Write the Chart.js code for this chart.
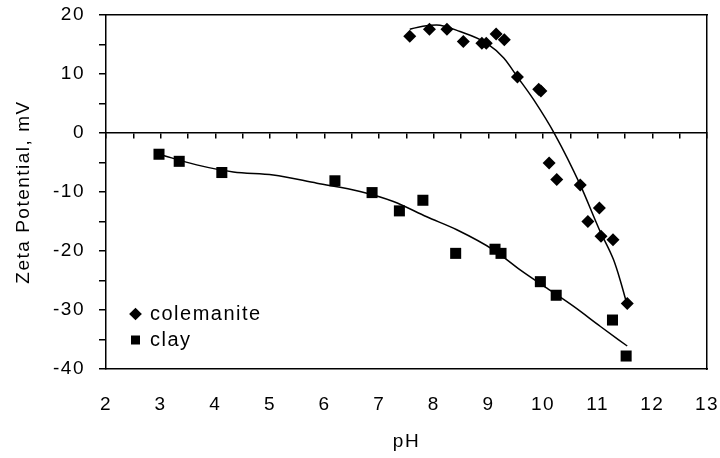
<!DOCTYPE html>
<html>
<head>
<meta charset="utf-8">
<script src="https://cdn.jsdelivr.net/npm/chart.js@4"></script>
<style>
  html, body { margin: 0; padding: 0; background: #fff; }
  #zeta { display: block; }
</style>
</head>
<body>
<canvas id="zeta" width="720" height="458"></canvas>
<script>
// Measured points (pH, zeta potential in mV)
const colemaniteX = [7.56, 7.92, 8.24, 8.54, 8.88, 8.96, 9.14, 9.29, 9.53, 9.92, 9.96, 10.11, 10.25, 10.68, 10.82, 11.03, 11.06, 11.28, 11.54];
const colemaniteY = [16.4, 17.6, 17.6, 15.5, 15.2, 15.2, 16.8, 15.8, 9.5, 7.4, 7.1, -5.1, -7.9, -8.8, -15.0, -12.7, -17.5, -18.1, -28.9];

const clayX = [2.97, 3.34, 4.12, 6.19, 6.87, 7.37, 7.80, 8.40, 9.12, 9.23, 9.95, 10.24, 11.27, 11.52];
const clayY = [-3.6, -4.8, -6.7, -8.1, -10.1, -13.2, -11.4, -20.4, -19.7, -20.4, -25.2, -27.5, -31.7, -37.8];

// Trend lines
const colemaniteFitX = [7.56, 7.8, 8.05, 8.48, 8.97, 9.28, 9.53, 9.83, 10.22, 10.68, 11.03, 11.29, 11.41, 11.54];
const colemaniteFitY = [17.6, 18.1, 18.3, 17.2, 15.2, 12.7, 9.5, 5.6, -0.3, -8.8, -16.4, -21.5, -24.9, -29.2];

const clayFitX = [2.97, 3.66, 4.33, 5.06, 5.86, 6.65, 7.26, 7.87, 8.42, 9.09, 9.58, 10.07, 10.56, 11.05, 11.54];
const clayFitY = [-3.6, -5.4, -6.6, -7.1, -8.5, -9.9, -11.6, -14.2, -16.4, -19.8, -23.2, -26.3, -29.4, -32.8, -36.1];

// Axis ranges
const xMin = 2, xMax = 13, xStep = 1;
const yMin = -40, yMax = 20, yStep = 5, yLabelStep = 10;

const toPoints = (xs, ys) => xs.map((x, i) => ({ x: x, y: ys[i] }));

Chart.defaults.font.family = "'Liberation Sans', Arial, sans-serif";
Chart.defaults.font.size = 19;
Chart.defaults.color = '#000';

// the original lettering is a bit wider than Arial
const wideText = {
    id: 'wideText',
    beforeUpdate(chart) { chart.ctx.letterSpacing = '1.5px'; },
    beforeDraw(chart) { chart.ctx.letterSpacing = '1.5px'; }
};

// put the legend in the lower left corner of the plot
const legendSpot = {
    id: 'legendSpot',
    afterLayout(chart) {
        const lg = chart.legend;
        const area = chart.chartArea;
        lg.left = area.left + 19;
        lg.right = lg.left + lg.width;
        lg.bottom = area.bottom - 13;
        lg.top = lg.bottom - lg.height;
    }
};

const ctx = document.getElementById('zeta').getContext('2d');
new Chart(ctx, {
    type: 'scatter',
    data: {
        datasets: [
            {
                label: 'colemanite',
                data: toPoints(colemaniteX, colemaniteY),
                pointStyle: 'rectRot',
                pointRadius: 6.5,
                backgroundColor: '#000',
                borderColor: '#000',
                borderWidth: 0
            },
            {
                label: 'clay',
                data: toPoints(clayX, clayY),
                pointStyle: 'rect',
                pointRadius: 7.8,
                backgroundColor: '#000',
                borderColor: '#000',
                borderWidth: 0
            },
            {
                label: 'colemanite fit',
                data: toPoints(colemaniteFitX, colemaniteFitY),
                showLine: true,
                pointRadius: 0,
                borderColor: '#000',
                borderWidth: 1.5,
                cubicInterpolationMode: 'monotone'
            },
            {
                label: 'clay fit',
                data: toPoints(clayFitX, clayFitY),
                showLine: true,
                pointRadius: 0,
                borderColor: '#000',
                borderWidth: 1.5,
                cubicInterpolationMode: 'monotone'
            }
        ]
    },
    plugins: [wideText, legendSpot],
    options: {
        responsive: false,
        animation: false,
        layout: { padding: { top: 15, right: 13, bottom: 0, left: 0 } },
        plugins: {
            tooltip: { enabled: false },
            legend: {
                position: 'chartArea',
                align: 'end',
                labels: {
                    usePointStyle: true,
                    boxWidth: 9,
                    boxHeight: 9,
                    padding: 6,
                    color: '#000',
                    font: { size: 20 },
                    filter: item => item.datasetIndex < 2
                }
            }
        },
        scales: {
            x: {
                type: 'linear',
                position: 'bottom',
                min: xMin,
                max: xMax,
                afterFit: s => { s.height = 89; s.paddingLeft = 0; s.paddingRight = 0; },
                ticks: { stepSize: xStep, autoSkip: false, maxRotation: 0, padding: 24, color: '#000' },
                grid: { drawOnChartArea: false, drawTicks: false },
                border: { color: '#000', width: 1.5 },
                title: { display: true, text: 'pH', color: '#000', padding: { top: 0, bottom: 5 } }
            },
            x0: {
                type: 'linear',
                axis: 'x',
                position: { y: 0 },
                min: xMin,
                max: xMax,
                ticks: { display: false, stepSize: 0.5, maxTicksLimit: 100 },
                grid: { drawOnChartArea: false, drawTicks: true, tickLength: 5, color: '#000', lineWidth: 1.5 },
                border: { color: '#000', width: 1.5 }
            },
            xTop: {
                type: 'linear',
                axis: 'x',
                position: 'top',
                min: xMin,
                max: xMax,
                afterFit: s => { s.height = 0; },
                ticks: { display: false },
                grid: { drawOnChartArea: false, drawTicks: false },
                border: { color: '#000', width: 1.5 }
            },
            y: {
                type: 'linear',
                position: 'left',
                min: yMin,
                max: yMax,
                afterFit: s => { s.width = 106; s.paddingTop = 0; s.paddingBottom = 0; },
                ticks: {
                    stepSize: yStep,
                    padding: 14,
                    color: '#000',
                    callback: v => (v % yLabelStep === 0 ? v : '')
                },
                grid: { drawOnChartArea: false, drawTicks: true, tickLength: 7, color: '#000', lineWidth: 1.5 },
                border: { color: '#000', width: 1.5 },
                title: { display: true, text: 'Zeta Potential, mV', color: '#000', padding: { top: 12, bottom: 0 } }
            },
            yRight: {
                type: 'linear',
                position: 'right',
                min: yMin,
                max: yMax,
                afterFit: s => { s.width = 0; },
                ticks: { display: false },
                grid: { drawOnChartArea: false, drawTicks: false },
                border: { color: '#000', width: 1.5 }
            }
        }
    }
});
</script>
</body>
</html>
